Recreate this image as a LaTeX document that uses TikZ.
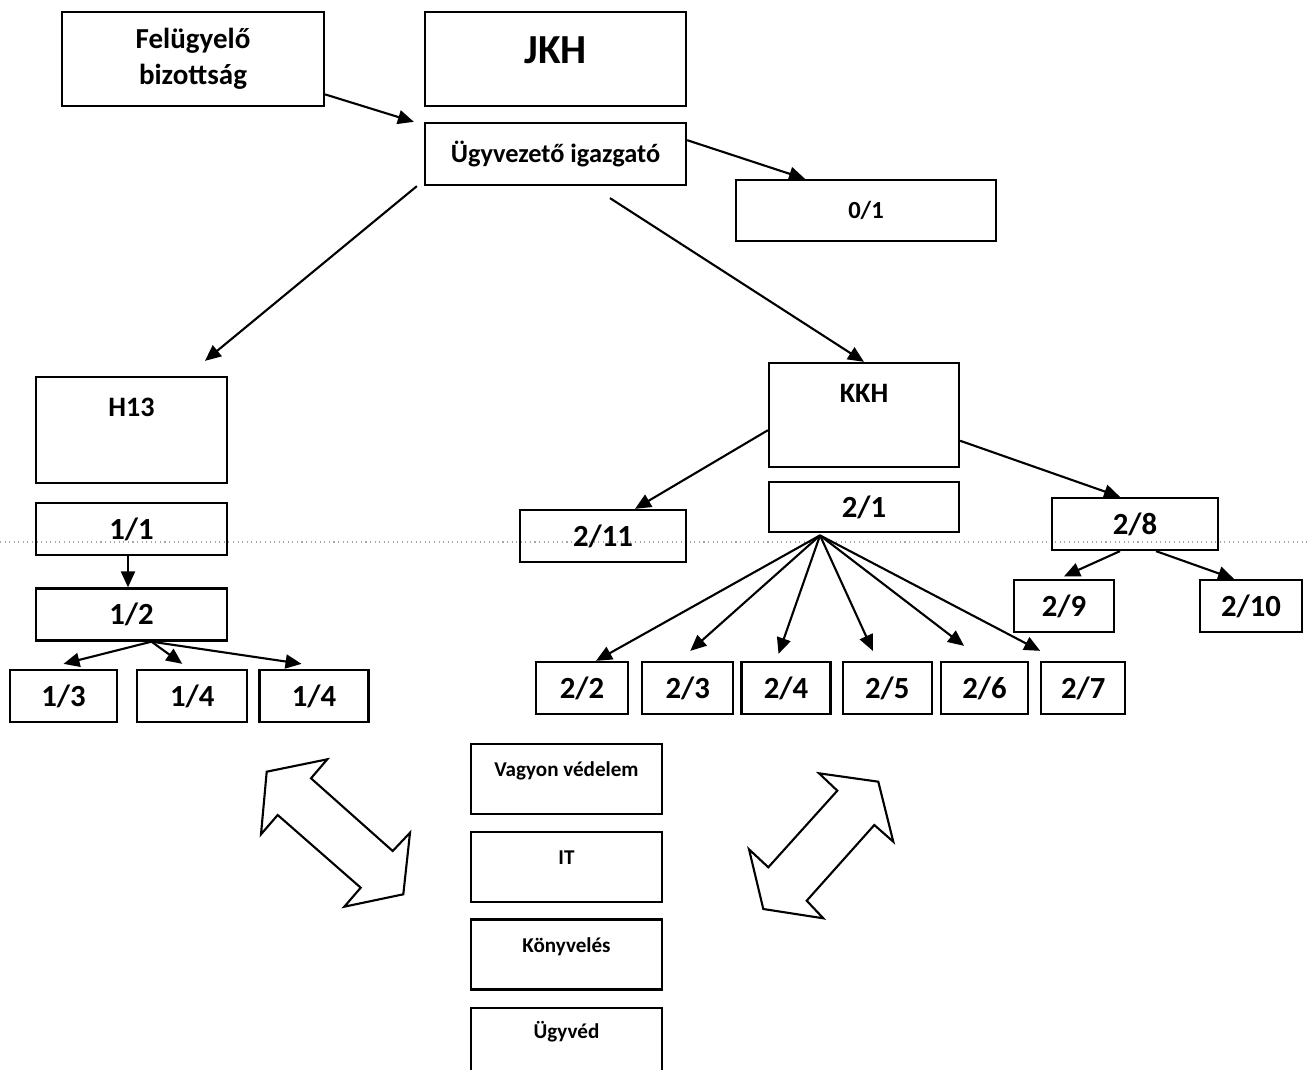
\documentclass[tikz,border=0pt]{standalone}
\usepackage{fontspec}
\setmainfont{Carlito}
\usepackage{tikz}
\usetikzlibrary{arrows.meta,positioning}

\begin{document}
\begin{tikzpicture}[
  x=0.02cm, y=-0.02cm,
  box/.style={draw, line width=1.3pt, inner sep=0pt, align=center, font=\bfseries},
  num/.style={box, minimum height=1.04cm, font=\bfseries\fontsize{17.5}{20}\selectfont},
  small/.style={box, minimum width=3.82cm, font=\bfseries\fontsize{12}{14}\selectfont},
  arr/.style={-{Triangle[length=0.32cm,width=0.28cm]}, line width=1.2pt},
  dbl/.style={line width=1.2pt, line join=miter},
  scan/.style={gray!70, dotted, line width=0.6pt}
]
\useasboundingbox (0,0) rectangle (1307,1070);

\draw[scan] (0,542) -- (1307,542);

\node[box, minimum width=5.24cm, minimum height=1.88cm, font=\bfseries\fontsize{16.5}{20.5}\selectfont] (fb) at (193,59) {Felügyelő\\bizottság};
\node[box, minimum width=5.22cm, text height=1.04cm, text depth=0.84cm, font=\bfseries\fontsize{23.5}{27}\selectfont] (jkh) at (555.5,59) {JKH};
\node[box, minimum width=5.22cm, minimum height=1.24cm, font=\bfseries\fontsize{15}{17}\selectfont] (ugy) at (555.5,154) {Ügyvezető igazgató};
\node[box, minimum width=5.2cm, minimum height=1.22cm, font=\bfseries\fontsize{14}{17}\selectfont] (n01) at (866,210.5) {0/1};

\node[box, minimum width=3.82cm, text height=0.78cm, text depth=1.34cm, font=\bfseries\fontsize{16}{19}\selectfont] (h13) at (131.5,430) {H13};
\node[num, minimum width=3.82cm, below=0.36cm of h13] (n11) {1/1};
\node[num, minimum width=3.82cm, below=0.62cm of n11] (n12) {1/2};
\node[num, minimum width=2.14cm] (n13) at (63.5,696) {1/3};
\node[num, minimum width=2.2cm, right=0.36cm of n13] (n14a) {1/4};
\node[num, minimum width=2.18cm, right=0.2cm of n14a] (n14b) {1/4};

\node[box, minimum width=3.8cm, text height=0.78cm, text depth=1.30cm, font=\bfseries\fontsize{16}{19}\selectfont] (kkh) at (864,415) {KKH};
\node[num, minimum width=3.8cm, minimum height=1.0cm, below=0.26cm of kkh] (n21) {2/1};
\node[num, minimum width=3.32cm] (n211) at (603,536) {2/11};
\node[num, minimum width=3.32cm] (n28) at (1135,524) {2/8};
\node[num, minimum width=2.0cm] (n29) at (1064,606) {2/9};
\node[num, minimum width=2.04cm] (n210) at (1251,606) {2/10};
\node[num, minimum width=1.84cm] (n22) at (582,688) {2/2};
\node[num, minimum width=1.82cm, right=0.24cm of n22] (n23) {2/3};
\node[num, minimum width=1.78cm, right=0.12cm of n23] (n24) {2/4};
\node[num, minimum width=1.78cm, right=0.2cm of n24] (n25) {2/5};
\node[num, minimum width=1.74cm, right=0.14cm of n25] (n26) {2/6};
\node[num, minimum width=1.68cm, right=0.22cm of n26] (n27) {2/7};

\node[small, text height=0.64cm, text depth=0.76cm] (vv) at (566.5,779) {Vagyon védelem};
\node[small, text height=0.64cm, text depth=0.76cm, below=0.32cm of vv] (it) {IT};
\node[small, text height=0.66cm, text depth=0.74cm, below=0.3cm of it] (kv) {Könyvelés};
\node[small, text height=0.62cm, text depth=0.76cm, below=0.32cm of kv] (uv) {Ügyvéd};

\draw[arr] (fb.-15) -- ([xshift=-0.2cm]ugy.north west);
\draw[arr] (ugy.6) -- ([xshift=-1.22cm]n01.north);
\draw[arr] ([xshift=-0.14cm]ugy.south west) -- ([shift={(1.47cm,0.3cm)}]h13.north);
\draw[arr] ([shift={(1.09cm,-0.24cm)}]ugy.south) -- (kkh.north);

\draw[arr] ([xshift=-0.07cm]n11.south) -- ([xshift=-0.07cm]n12.north);
\draw[arr] ([xshift=0.4cm]n12.south) -- ([yshift=0.1cm]n13.north);
\draw[arr] ([xshift=0.4cm]n12.south) -- ([shift={(-0.2cm,0.1cm)}]n14a.north);
\draw[arr] ([xshift=0.4cm]n12.south) -- ([shift={(-0.25cm,0.1cm)}]n14b.north);

\draw[arr] (kkh.189) -- ([xshift=0.64cm]n211.north);
\draw[arr] (kkh.-15) -- ([xshift=-0.3cm]n28.north);
\draw[arr] ([xshift=-0.3cm]n28.south) -- ([yshift=0.05cm]n29.north);
\draw[arr] ([xshift=0.42cm]n28.south) -- ([xshift=-0.34cm]n210.north);

\draw[arr] ([shift={(-0.88cm,-0.04cm)}]n21.south) -- ([xshift=0.28cm]n22.north);
\draw[arr] ([shift={(-0.88cm,-0.04cm)}]n21.south) -- ([shift={(0.05cm,0.2cm)}]n23.north);
\draw[arr] ([shift={(-0.88cm,-0.04cm)}]n21.south) -- ([shift={(-0.15cm,0.14cm)}]n24.north);
\draw[arr] ([shift={(-0.88cm,-0.04cm)}]n21.south) -- ([shift={(-0.29cm,0.2cm)}]n25.north);
\draw[arr] ([shift={(-0.88cm,-0.04cm)}]n21.south) -- ([shift={(-0.41cm,0.3cm)}]n26.north);
\draw[arr] ([shift={(-0.88cm,-0.04cm)}]n21.south) -- ([yshift=0.2cm]n27.north west);

\draw[dbl] (266.7,771.7) -- (327.3,759.3) -- (311,778.3) -- (392.7,851) -- (410,832.7) -- (403.3,894.3) -- (344.3,906.7) -- (360.7,887.7) -- (277.7,815) -- (261,834.3) -- cycle;
\draw[dbl] (819,773.3) -- (878.3,781.7) -- (893.3,841.7) -- (874.3,825) -- (806.7,900.7) -- (823.3,918.3) -- (763.3,909) -- (749,849.3) -- (768.3,867.3) -- (837.3,790.7) -- cycle;
\end{tikzpicture}
\end{document}
